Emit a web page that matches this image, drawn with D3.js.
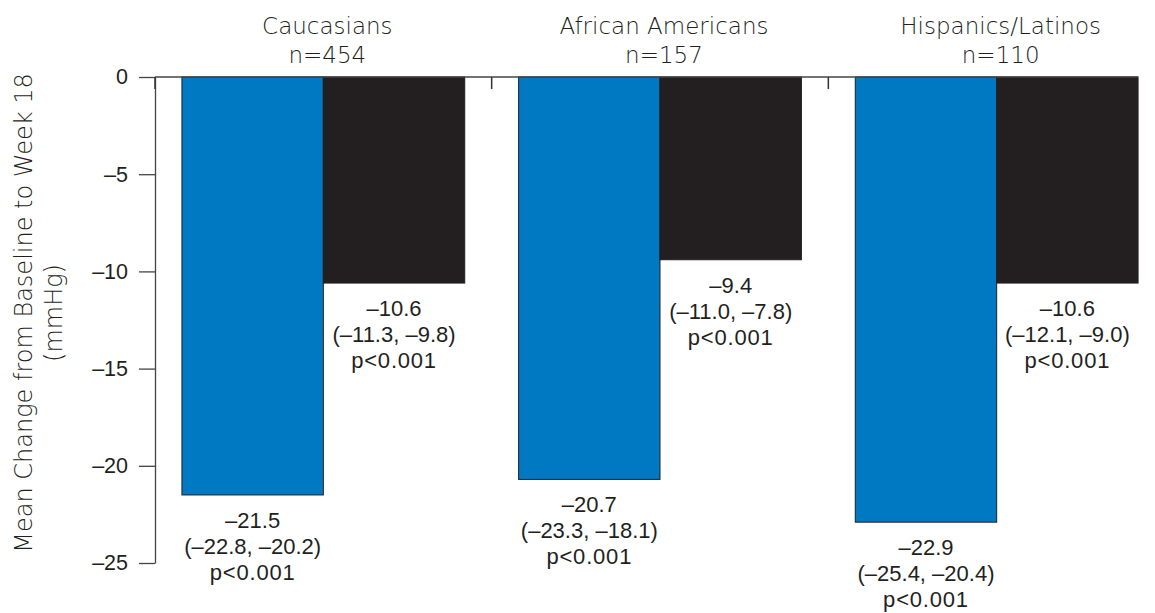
<!DOCTYPE html>
<html>
<head>
<meta charset="utf-8">
<script src="https://cdn.jsdelivr.net/npm/d3@7"></script>
<style>
  html, body { margin: 0; padding: 0; background: #fff; }
  svg { display: block; }
  .title { font-family: "DejaVu Sans", sans-serif; font-weight: 300; fill: #231f20; }
  .num { font-family: "Liberation Sans", Arial, sans-serif; fill: #231f20; }
</style>
</head>
<body>
<svg id="chart" width="1155" height="613"></svg>
<script>
// Groups and their sample sizes
const categories = ["Caucasians", "African Americans", "Hispanics/Latinos"];
const groupN = ["n=454", "n=157", "n=110"];

// Two treatment arms per group
const seriesKeys = ["blue", "black"];
const blueValues = [-21.5, -20.7, -22.9];
const blackValues = [-10.6, -9.4, -10.6];
const blueCI = ["(–22.8, –20.2)", "(–23.3, –18.1)", "(–25.4, –20.4)"];
const blackCI = ["(–11.3, –9.8)", "(–11.0, –7.8)", "(–12.1, –9.0)"];
const pLabels = ["p<0.001", "p<0.001", "p<0.001"];

// Y axis
const yTicks = [0, -5, -10, -15, -20, -25];
const yTickLabels = ["0", "–5", "–10", "–15", "–20", "–25"];
const yTitle = ["Mean Change from Baseline to Week 18", "(mmHg)"];

const svg = d3.select("#chart");
const colors = { blue: "#0079c2", black: "#231f20" };

const x = d3.scaleBand()
  .domain(categories)
  .range([155, 1165])
  .paddingInner(0.16)
  .paddingOuter(0.08);

const xSub = d3.scaleBand()
  .domain(seriesKeys)
  .range([0, x.bandwidth()])
  .padding(0);

const y = d3.scaleLinear()
  .domain([0, -25])
  .range([77, 563]);

const rows = categories.map((c, i) => ({
  cat: c,
  n: groupN[i],
  bars: [
    { key: "blue", value: blueValues[i], ci: blueCI[i], p: pLabels[i] },
    { key: "black", value: blackValues[i], ci: blackCI[i], p: pLabels[i] }
  ]
}));

// Bars
const groups = svg.selectAll("g.grp")
  .data(rows)
  .join("g")
  .attr("class", "grp")
  .attr("transform", d => `translate(${x(d.cat)},0)`);

groups.selectAll("rect")
  .data(d => d.bars)
  .join("rect")
  .attr("x", d => xSub(d.key))
  .attr("y", d => y(0))
  .attr("width", xSub.bandwidth())
  .attr("height", d => y(d.value) - y(0))
  .attr("fill", d => colors[d.key])
  .attr("stroke", "#231f20")
  .attr("stroke-width", 1);

// Value / CI / p labels under each bar
const fmt = v => "–" + Math.abs(v).toFixed(1);
groups.selectAll("text.val")
  .data(d => d.bars)
  .join("text")
  .attr("class", "val num")
  .attr("text-anchor", "middle")
  .attr("font-size", 22)
  .attr("transform", d => `translate(${xSub(d.key) + xSub.bandwidth() / 2},${y(d.value) + 33})`)
  .selectAll("tspan")
  .data(d => [fmt(d.value), d.ci, d.p])
  .join("tspan")
  .attr("x", 0)
  .attr("y", (t, i) => i * 26)
  .attr("letter-spacing", (t, i) => i === 2 ? 0.8 : 0)
  .text(t => t);

// Group titles
groups.append("text")
  .attr("class", "title")
  .attr("text-anchor", "middle")
  .attr("font-size", 23)
  .attr("x", x.bandwidth() / 2 + 4)
  .attr("y", 34)
  .text(d => d.cat);
groups.append("text")
  .attr("class", "title")
  .attr("text-anchor", "middle")
  .attr("font-size", 23)
  .attr("x", x.bandwidth() / 2 + 4)
  .attr("y", 63)
  .text(d => d.n);

// Y axis
const yAxis = d3.axisLeft(y)
  .tickValues(yTicks)
  .tickSize(16)
  .tickSizeOuter(0)
  .tickPadding(11)
  .tickFormat((d, i) => yTickLabels[i]);

const ax = svg.append("g")
  .attr("transform", "translate(155,0)")
  .call(yAxis);
ax.select(".domain").attr("stroke", "#444").attr("stroke-width", 1.3);
ax.selectAll(".tick line").attr("stroke", "#444").attr("stroke-width", 1.3);
ax.selectAll(".tick text")
  .attr("class", "num")
  .attr("font-family", "Liberation Sans, Arial, sans-serif")
  .attr("font-size", 21.5)
  .attr("fill", "#231f20");

// Zero line across the plot
svg.append("line")
  .attr("x1", 155).attr("x2", x(categories[2]) + x.bandwidth())
  .attr("y1", y(0)).attr("y2", y(0))
  .attr("stroke", "#444").attr("stroke-width", 1.3);

// Small ticks marking group boundaries
const step = x.step();
const boundaries = categories.map(c => x(c) - (step - x.bandwidth()) / 2);
svg.selectAll("line.bound")
  .data(boundaries)
  .join("line")
  .attr("class", "bound")
  .attr("x1", d => d).attr("x2", d => d)
  .attr("y1", y(0)).attr("y2", y(0) + 12)
  .attr("stroke", "#333").attr("stroke-width", 1.5);

// Y axis title
svg.append("text")
  .attr("class", "title")
  .attr("text-anchor", "middle")
  .attr("font-size", 24)
  .attr("transform", "translate(32,313) rotate(-90)")
  .selectAll("tspan")
  .data(yTitle)
  .join("tspan")
  .attr("x", 0)
  .attr("y", (t, i) => i * 30)
  .text(t => t);
</script>
</body>
</html>
